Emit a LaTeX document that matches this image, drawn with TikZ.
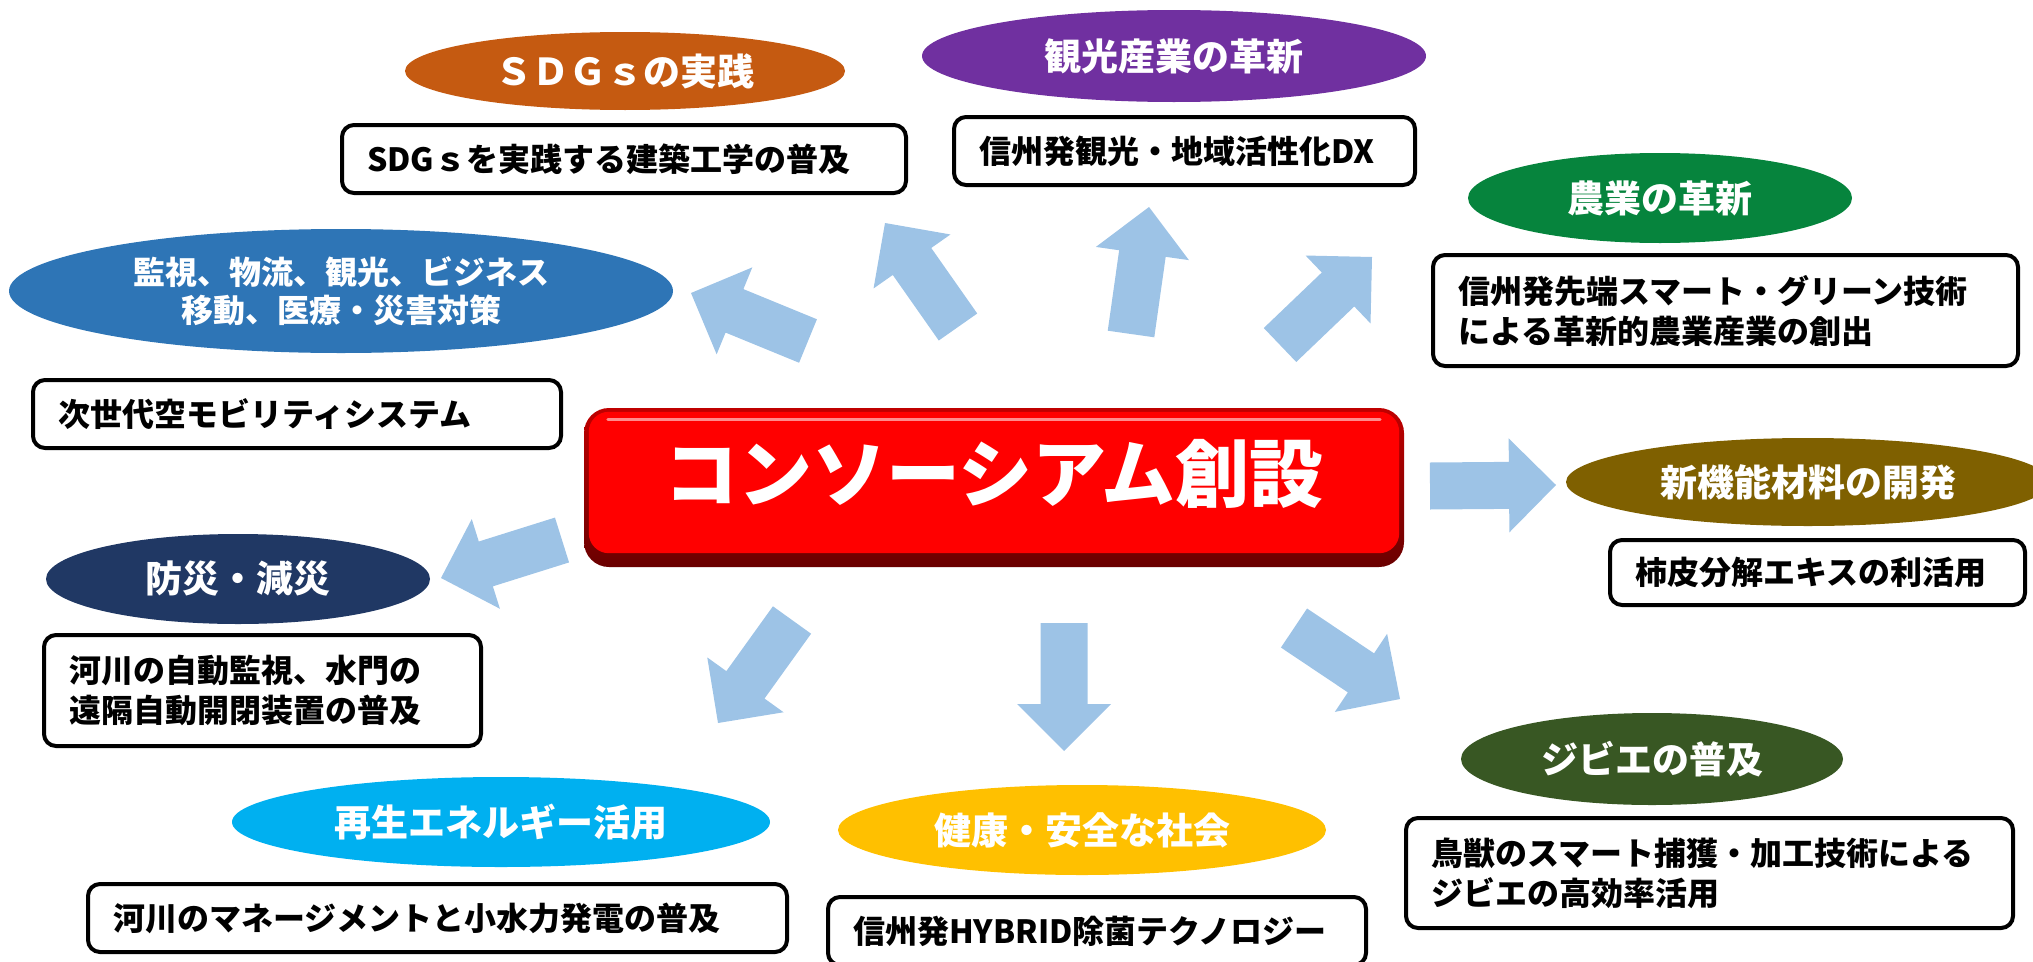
\documentclass[tikz,border=0pt]{standalone}
\usepackage{fontspec}
\setmainfont{Noto Sans CJK JP}
\usetikzlibrary{shapes.geometric,calc}
\definecolor{csdg}{HTML}{C55A11}
\definecolor{ckanko}{HTML}{7030A0}
\definecolor{cnogyo}{HTML}{06843D}
\definecolor{ckanshi}{HTML}{2E75B6}
\definecolor{cshin}{HTML}{7F6000}
\definecolor{cbosai}{HTML}{203864}
\definecolor{csaisei}{HTML}{00B0F0}
\definecolor{ckenko}{HTML}{FFC000}
\definecolor{cjibie}{HTML}{385723}
\definecolor{arrowblue}{HTML}{9DC3E6}
\definecolor{rimtop}{HTML}{C00000}
\definecolor{rimbot}{HTML}{6A0000}
\newcommand{\myblockarrow}[2]{%
  \coordinate (#1-n) at ($(#2)!47pt!(#1)$);
  \fill[arrowblue] ($(#1)!23.5pt!90:(#2)$) -- ($(#1-n)!23.5pt!90:(#2)$) -- ($(#1-n)!47pt!90:(#2)$) -- (#2) -- ($(#1-n)!47pt!-90:(#2)$) -- ($(#1-n)!23.5pt!-90:(#2)$) -- ($(#1)!23.5pt!-90:(#2)$) -- cycle;}
\begin{document}
\begin{tikzpicture}[x=1pt,y=-1pt,
  title/.style={ellipse, inner sep=0pt, text=white, align=center, font=\bfseries\fontsize{37}{44}\selectfont},
  box/.style={draw=black, line width=4pt, rounded corners=12pt, fill=white, inner xsep=25pt, inner ysep=0pt, align=left, font=\bfseries\fontsize{32}{40}\selectfont}]
\useasboundingbox (0,0) rectangle (2033,961);
\clip (0,0) rectangle (2033,961);

% ellipses
\node[title, fill=csdg, minimum width=440pt, minimum height=78pt] (sdg) at (625,71) {ＳＤＧｓの実践};
\node[title, fill=ckanko, minimum width=504pt, minimum height=92pt] (kanko) at (1174,56) {観光産業の革新};
\node[title, fill=cnogyo, minimum width=384pt, minimum height=90pt] (nogyo) at (1660,198) {農業の革新};
\node[title, fill=ckanshi, minimum width=664pt, minimum height=124pt, font=\bfseries\fontsize{32}{38}\selectfont] (kanshi) at (341,291) {監視、物流、観光、ビジネス\\移動、医療・災害対策};
\node[title, fill=cshin, minimum width=484pt, minimum height=88pt] (shinkino) at (1808,482) {新機能材料の開発};
\node[title, fill=cbosai, minimum width=384pt, minimum height=90pt] (bosai) at (238,579) {防災・減災};
\node[title, fill=csaisei, minimum width=538pt, minimum height=90pt] (saisei) at (501,822) {再生エネルギー活用};
\node[title, fill=ckenko, minimum width=488pt, minimum height=90pt] (kenko) at (1082,830) {健康・安全な社会};
\node[title, fill=cjibie, minimum width=382pt, minimum height=92pt] (jibie) at (1652,759) {ジビエの普及};

% boxes
\node[box, text width=514pt, minimum height=68pt] (sdgbox) at (624,159) {SDGｓを実践する建築工学の普及};
\node[box, text width=411pt, minimum height=68pt] (kankobox) at (1184.5,151) {信州発観光・地域活性化DX};
\node[box, text width=535pt, minimum height=111pt] (nogyobox) at (1725.5,310.5) {信州発先端スマート・グリーン技術\\による革新的農業産業の創出};
\node[box, text width=478pt, minimum height=68pt] (mobbox) at (297,414) {次世代空モビリティシステム};
\node[box, text width=365pt, minimum height=65pt] (kakibox) at (1817.5,572.5) {柿皮分解エキスの利活用};
\node[box, text width=387pt, minimum height=111pt] (kasenbox) at (262.5,690.5) {河川の自動監視、水門の\\遠隔自動開閉装置の普及};
\node[box, text width=649pt, minimum height=68pt] (manebox) at (437.5,918) {河川のマネージメントと小水力発電の普及};
\node[box, text width=488pt, minimum height=68pt] (hybridbox) at (1097,931) {信州発HYBRID除菌テクノロジー};
\node[box, text width=557pt, minimum height=110pt] (chojubox) at (1709.5,873) {鳥獣のスマート捕獲・加工技術による\\ジビエの高効率活用};

% central box
\node[minimum width=820pt, minimum height=159pt, rounded corners=25pt, top color=rimtop, bottom color=rimbot, inner sep=0pt] (core) at (994,487.5) {};
\fill[red, rounded corners=20pt] ($(core.north west)+(5,4)$) rectangle ($(core.south east)+(-5,-14)$);
\draw[white, opacity=0.55, line width=3pt, line cap=round] ($(core.north west)+(24,12)$) -- ($(core.north east)+(-24,12)$);
\node[text=white, font=\bfseries\fontsize{74}{80}\selectfont, inner sep=0pt] (coretext) at (994,474) {コンソーシアム創設};

% arrows
\coordinate (a1t) at (958,327); \coordinate (a1h) at (885,223);
\coordinate (a2t) at (1131,334); \coordinate (a2h) at (1149,207);
\coordinate (a3t) at (1280,345); \coordinate (a3h) at (1372,257);
\coordinate (a4t) at (808,341); \coordinate (a4h) at (691,293);
\coordinate (a5t) at (1430,486); \coordinate (a5h) at (1556,485);
\coordinate (a6t) at (562,540); \coordinate (a6h) at (441,578);
\coordinate (a7t) at (792,620); \coordinate (a7h) at (718,723);
\coordinate (a8t) at (1064,623); \coordinate (a8h) at (1064,751);
\coordinate (a9t) at (1294,628); \coordinate (a9h) at (1400,699);
\myblockarrow{a1t}{a1h}
\myblockarrow{a2t}{a2h}
\myblockarrow{a3t}{a3h}
\myblockarrow{a4t}{a4h}
\myblockarrow{a5t}{a5h}
\myblockarrow{a6t}{a6h}
\myblockarrow{a7t}{a7h}
\myblockarrow{a8t}{a8h}
\myblockarrow{a9t}{a9h}
\end{tikzpicture}
\end{document}
